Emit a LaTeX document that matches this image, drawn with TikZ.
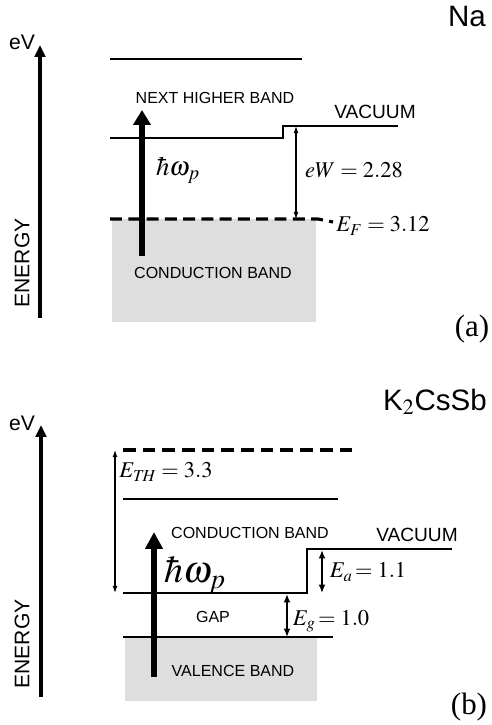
\documentclass[tikz,border=0pt]{standalone}
\usepackage{mathptmx}
\usepackage[no-math]{fontspec}
\setmainfont{Liberation Sans}
\newfontfamily\tagfont{Liberation Serif}
\usepackage{tikz}
\usetikzlibrary{arrows.meta}
\definecolor{band}{HTML}{DEDEDE}
\tikzset{
  lvl/.style={line width=1.4pt},
  fermi/.style={line width=2.2pt,dash pattern=on 8.5pt off 4.5pt},
  axis/.style={-{Triangle[length=8.5pt,width=7.5pt]},line width=3.4pt},
  photon/.style={-{Triangle[length=10.5pt,width=12pt]},line width=4pt},
  gapar/.style={{Latex[length=5pt,width=3.5pt]}-{Latex[length=5pt,width=3.5pt]},line width=0.8pt},
  lab/.style={font=\fontsize{11.4}{13}\selectfont,inner sep=0pt},
  big/.style={font=\fontsize{13.6}{15}\selectfont,inner sep=0pt},
  ev/.style={font=\fontsize{15}{17}\selectfont,inner sep=0pt},
  mat/.style={font=\fontsize{21}{24}\selectfont,inner sep=0pt},
  val/.style={font=\fontsize{16}{18}\selectfont,inner sep=0pt},
  tag/.style={font=\tagfont\fontsize{22}{24}\selectfont,inner sep=0pt},
}
\begin{document}
\begin{tikzpicture}[x=0.025cm,y=-0.025cm]
\useasboundingbox (0,0) rectangle (492,725);

\fill[band] (112,219) rectangle (316,322);
\draw[lvl] (110,59) -- (302,59);
\draw[lvl] (110,138) -- (283,138) -- (283,126) -- (398,126);
\draw[fermi] (110,219) -- (318,219) -- (333,222);
\coordinate (axa0) at (40,318);
\coordinate (axa1) at (40,45);
\draw[axis] (axa0) -- (axa1);
\coordinate (pha0) at (142,256);
\coordinate (pha1) at (142,110);
\draw[photon] (pha0) -- (pha1);
\coordinate (vaca) at (296,126);
\coordinate (efa) at (296,219);
\draw[gapar] (vaca) -- (efa);
\node[ev] (eva) at (22,42) {eV};
\node[ev,rotate=90] (ena) at (22,263) {ENERGY};
\node[mat] (na) at (467,16) {Na};
\node[lab] (nhb) at (215,98) {NEXT HIGHER BAND};
\node[big] (vacla) at (375,112) {VACUUM};
\node[lab] (cba) at (213,273) {CONDUCTION BAND};
\node[font=\fontsize{19}{21}\selectfont,inner sep=0pt] (hwa) at (178,170) {$\hbar\omega_p$};
\node[val] (ewa) at (354,170) {$eW = 2.28$};
\node[val] (efla) at (383,226) {$E_F = 3.12$};
\node[tag] (ta) at (472,329) {(a)};

\fill[band] (125,637) rectangle (317,701);
\draw[fermi,dash pattern=on 9pt off 5pt] (123,450) -- (353,450);
\draw[lvl] (123,499) -- (338,499);
\draw[lvl] (123,593) -- (307,593) -- (307,549) -- (452,549);
\draw[lvl] (123,637) -- (333,637);
\coordinate (axb0) at (41,697);
\coordinate (axb1) at (41,425);
\draw[axis] (axb0) -- (axb1);
\coordinate (phb0) at (154,677);
\coordinate (phb1) at (154,532);
\draw[photon,line width=3.6pt,-{Triangle[length=12pt,width=12pt]}] (phb0) -- (phb1);
\coordinate (thb) at (115,450);
\coordinate (cbb) at (115,593);
\draw[gapar] (thb) -- (cbb);
\coordinate (vacb) at (322,550);
\coordinate (cbb2) at (322,593);
\draw[gapar,line width=1.3pt,{Latex[length=6pt,width=5pt]}-{Latex[length=6pt,width=5pt]}] (vacb) -- (cbb2);
\coordinate (cbb3) at (287,594);
\coordinate (vbb) at (287,637);
\draw[gapar,line width=1.3pt,{Latex[length=6pt,width=5pt]}-{Latex[length=6pt,width=5pt]}] (cbb3) -- (vbb);
\node[ev] (evb) at (22,423) {eV};
\node[ev,rotate=90] (enb) at (22,644) {ENERGY};
\node[mat] (ks) at (435,402) {K$_2$CsSb};
\node[val] (thl) at (166,472) {$E_{T\!H} = 3.3$};
\node[lab] (cbl) at (250,533) {CONDUCTION BAND};
\node[big] (vaclb) at (417,535) {VACUUM};
\node[font=\fontsize{27}{30}\selectfont,inner sep=0pt] (hwb) at (195,575) {$\hbar\omega_p$};
\node[val] (eal) at (368,572) {$E_a\!= 1.1$};
\node[lab] (gapl) at (213,617) {GAP};
\node[val] (egl) at (331,621) {$E_g\!= 1.0$};
\node[lab] (vbl) at (233,671) {VALENCE BAND};
\node[tag] (tb) at (469,707) {(b)};
\end{tikzpicture}
\end{document}
